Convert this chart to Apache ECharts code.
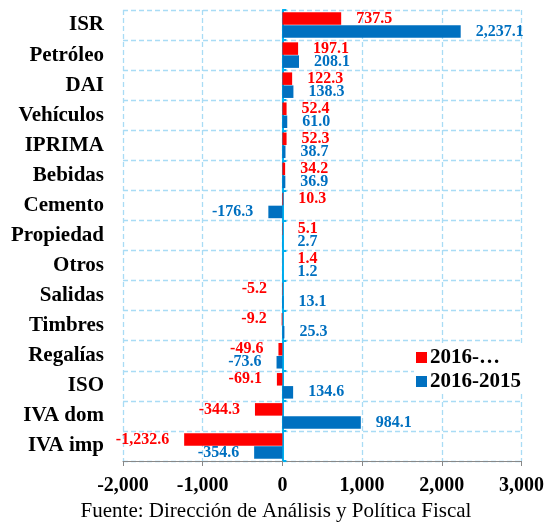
<!DOCTYPE html>
<html>
<head>
<meta charset="utf-8">
<script src="https://cdn.jsdelivr.net/npm/echarts@6/dist/echarts.min.js"></script>
<style>
  html, body { margin: 0; padding: 0; background: #fff; }
  #main { width: 547px; height: 524px; }
</style>
</head>
<body>
<div id="main"></div>
<script>
const categories = ['ISR', 'Petróleo', 'DAI', 'Vehículos', 'IPRIMA', 'Bebidas', 'Cemento', 'Propiedad',
  'Otros', 'Salidas', 'Timbres', 'Regalías', 'ISO', 'IVA dom', 'IVA imp']
const seriesNames = ['2016-…', '2016-2015']
const redValues = [737.5, 197.1, 122.3, 52.4, 52.3, 34.2, 10.3, 5.1, 1.4, -5.2, -9.2, -49.6, -69.1, -344.3, -1232.6]
const blueValues = [2237.1, 208.1, 138.3, 61.0, 38.7, 36.9, -176.3, 2.7, 1.2, 13.1, 25.3, -73.6, 134.6, 984.1, -354.6]
const xTicks = [-2000, -1000, 0, 1000, 2000, 3000]
const sourceText = 'Fuente: Dirección de Análisis y Política Fiscal'

const serif = '"Liberation Serif", "Times New Roman", serif'
const fmt = v => v.toLocaleString('en-US', {minimumFractionDigits: 1, maximumFractionDigits: 1})
const gridLine = {show: true, lineStyle: {color: '#a9dcf5', type: [5, 3], width: 1.3}}

// each label goes on the outer side of its bar
const withLabels = (vals, color) => vals.map(v => ({
  value: v,
  label: {
    show: true,
    position: v < 0 ? 'left' : 'right',
    distance: 15,
    color: color,
    fontFamily: serif,
    fontWeight: 'bold',
    fontSize: 16,
    formatter: p => fmt(p.value)
  }
}))

let myChart = echarts.init(document.getElementById('main'))
myChart.setOption({
  animation: false,
  title: {
    text: sourceText,
    left: 276,
    textAlign: 'center',
    top: 501,
    padding: 0,
    textStyle: {fontFamily: serif, fontWeight: 'normal', fontSize: 21, color: '#000'}
  },
  legend: {
    orient: 'vertical',
    left: 414,
    top: 345,
    itemWidth: 11,
    itemHeight: 11,
    itemGap: 3,
    padding: [2, 2, 2, 2],
    backgroundColor: '#fff',
    icon: 'rect',
    textStyle: {fontFamily: serif, fontWeight: 'bold', fontSize: 21, color: '#000', padding: [0, 0, 0, -2]},
    data: seriesNames
  },
  grid: {left: 123, right: 24, top: 10, bottom: 63},
  xAxis: {
    type: 'value',
    min: xTicks[0],
    max: xTicks[xTicks.length - 1],
    interval: 1000,
    axisLine: {show: true, onZero: false, lineStyle: {color: '#888', width: 1}},
    axisTick: {show: true, length: 5, lineStyle: {color: '#888'}},
    axisLabel: {
      margin: 15,
      fontFamily: serif, fontWeight: 'bold', fontSize: 20, color: '#000',
      formatter: v => v.toLocaleString('en-US')
    },
    splitLine: gridLine
  },
  yAxis: [{
    type: 'category',
    inverse: true,
    data: categories,
    axisLine: {show: false, onZero: false},
    axisTick: {show: false},
    axisLabel: {margin: 19, fontFamily: serif, fontWeight: 'bold', fontSize: 21, color: '#000'},
    splitLine: gridLine
  }, {
    type: 'category',
    inverse: true,
    data: categories,
    axisLine: {show: true, onZero: true, lineStyle: {color: '#00b0f0', width: 2}},
    axisTick: {show: true, inside: false, length: 4, lineStyle: {color: '#00b0f0', width: 2}},
    axisLabel: {show: false},
    splitLine: {show: false}
  }],
  series: [{
    name: seriesNames[0],
    type: 'bar',
    yAxisIndex: 0,
    data: withLabels(redValues, '#ff0000'),
    itemStyle: {color: '#ff0000'},
    barGap: '4%',
    barCategoryGap: '15%'
  }, {
    name: seriesNames[1],
    type: 'bar',
    yAxisIndex: 0,
    data: withLabels(blueValues, '#0070c0'),
    itemStyle: {color: '#0070c0'},
    barGap: '4%',
    barCategoryGap: '15%'
  }]
})
</script>
</body>
</html>
